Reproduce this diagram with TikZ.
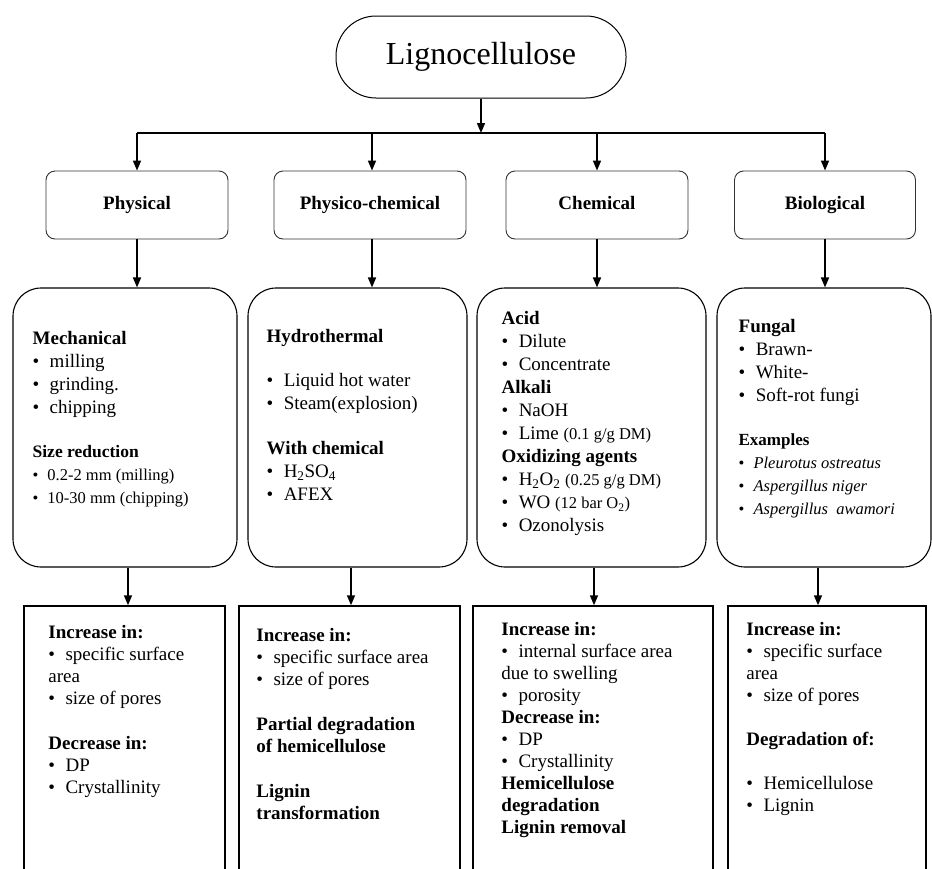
\documentclass[tikz,border=0pt]{standalone}
\usepackage{fontspec}
\setmainfont{Liberation Serif}
\usepackage{tikz}
\usetikzlibrary{arrows.meta,positioning,calc}
\newcommand{\itm}{\textbullet\hspace{0.55em}}
\newcommand{\smalltxt}[1]{{\fontsize{16.5}{23}\selectfont #1}}

\begin{document}
\begin{tikzpicture}[x=1pt, y=-1pt,
        root/.style={rectangle, rounded corners=40pt, draw, line width=1pt, minimum width=290pt, minimum height=82pt, font=\fontsize{32}{36}\selectfont},
        group/.style={rectangle, rounded corners=9pt, draw=black!80, line width=0.9pt, minimum height=68pt, text height=13pt, text depth=4pt, font=\fontsize{19}{23}\selectfont\bfseries},
        method/.style={rectangle, rounded corners=28pt, draw, line width=1.1pt, minimum height=279pt},
        effect/.style={rectangle, draw, line width=1.5pt, minimum height=280pt},
        body/.style={anchor=north west, inner sep=0pt, align=left, font=\fontsize{19}{23}\selectfont},
        bodyb/.style={body, font=\fontsize{19}{22}\selectfont},
        arrow/.style={-{Triangle[length=10pt,width=8pt]}, line width=1.6pt},
        bus/.style={line width=1.3pt}
    ]
        \clip (0,0) rectangle (932,868);

        \node[root] (ligno) at (481,57) {Lignocellulose};

        \node[group, minimum width=182pt] (phys) at (137,205) {Physical};
        \node[group, minimum width=192pt] (physchem) at (370,205) {Physico-chemical};
        \node[group, minimum width=182pt] (chem) at (597,205) {Chemical};
        \node[group, minimum width=181pt] (bio) at (825,205) {Biological};

        \node[method, minimum width=224pt] (phys3) at (125,427.5) {};
        \node[method, minimum width=219pt] (physchem3) at (357.5,427.5) {};
        \node[method, minimum width=229pt] (chem3) at (591.5,427.5) {};
        \node[method, minimum width=214pt] (bio3) at (824,427.5) {};

        \node[effect, minimum width=201pt] (phys4) at (124.5,746) {};
        \node[effect, minimum width=221pt] (physchem4) at (349.5,746) {};
        \node[effect, minimum width=240pt] (chem4) at (593,746) {};
        \node[effect, minimum width=198pt] (bio4) at (827,746) {};

        \node[body] (phys3txt) at ([xshift=20pt,yshift=-44pt]phys3.north west) {
            \textbf{Mechanical}\\
            \itm milling\\
            \itm grinding.\\
            \itm chipping\\[21pt]
            {\fontsize{17.5}{23}\selectfont\textbf{Size reduction}}\\
            \smalltxt{\itm 0.2-2 mm (milling)}\\
            \smalltxt{\itm 10-30 mm (chipping)}};
        \node[body] (physchem3txt) at ([xshift=19pt,yshift=-42pt]physchem3.north west) {
            \textbf{Hydrothermal}\\[21pt]
            \itm Liquid hot water\\
            \itm Steam(explosion)\\[22pt]
            \textbf{With chemical}\\
            \itm H\textsubscript{2}SO\textsubscript{4}\\
            \itm AFEX};
        \node[body] (chem3txt) at ([xshift=25pt,yshift=-24pt]chem3.north west) {
            \textbf{Acid}\\
            \itm Dilute\\
            \itm Concentrate\\
            \textbf{Alkali}\\
            \itm NaOH\\
            \itm Lime \smalltxt{(0.1 g/g DM)}\\
            \textbf{Oxidizing agents}\\
            \itm H\textsubscript{2}O\textsubscript{2} \smalltxt{(0.25 g/g DM)}\\
            \itm WO \smalltxt{(12 bar O\textsubscript{2})}\\
            \itm Ozonolysis};
        \node[body] (bio3txt) at ([xshift=22pt,yshift=-32pt]bio3.north west) {
            \textbf{Fungal}\\
            \itm Brawn-\\
            \itm White-\\
            \itm Soft-rot fungi\\[21pt]
            {\fontsize{17}{23}\selectfont\textbf{Examples}}\\
            \smalltxt{\itm \textit{Pleurotus ostreatus}}\\
            \smalltxt{\itm \textit{Aspergillus niger}}\\
            \smalltxt{\itm \textit{Aspergillus\ \ awamori}}};

        \node[bodyb] (phys4txt) at ([xshift=25pt,yshift=-20pt]phys4.north west) {
            \textbf{Increase in:}\\
            \itm specific surface\\
            area\\
            \itm size of pores\\[23pt]
            \textbf{Decrease in:}\\
            \itm DP\\
            \itm Crystallinity};
        \node[bodyb] (physchem4txt) at ([xshift=18pt,yshift=-23pt]physchem4.north west) {
            \textbf{Increase in:}\\
            \itm specific surface area\\
            \itm size of pores\\[23pt]
            \textbf{Partial degradation}\\
            \textbf{of hemicellulose}\\[23pt]
            \textbf{Lignin}\\
            \textbf{transformation}};
        \node[bodyb] (chem4txt) at ([xshift=29pt,yshift=-17pt]chem4.north west) {
            \textbf{Increase in:}\\
            \itm internal surface area\\
            due to swelling\\
            \itm porosity\\
            \textbf{Decrease in:}\\
            \itm DP\\
            \itm Crystallinity\\
            \textbf{Hemicellulose}\\
            \textbf{degradation}\\
            \textbf{Lignin removal}};
        \node[bodyb] (bio4txt) at ([xshift=19pt,yshift=-17pt]bio4.north west) {
            \textbf{Increase in:}\\
            \itm specific surface\\
            area\\
            \itm size of pores\\[22pt]
            \textbf{Degradation of:}\\[22pt]
            \itm Hemicellulose\\
            \itm Lignin};

        \coordinate (busl) at (137,133);
        \coordinate (busr) at (825,133);
        \draw[bus] (busl) -- (busr);
        \draw[arrow] (ligno) -- (ligno |- busl);
        \draw[arrow] (busl) -- (phys);
        \draw[arrow] ([xshift=2pt]physchem.north |- busl) -- ([xshift=2pt]physchem.north);
        \draw[arrow] (chem |- busl) -- (chem);
        \draw[arrow] (busr) -- (bio);

        \draw[arrow] (phys) -- (phys |- phys3.north);
        \draw[arrow] ([xshift=2pt]physchem.south) -- ([xshift=2pt]physchem.south |- physchem3.north);
        \draw[arrow] (chem) -- (chem |- chem3.north);
        \draw[arrow] (bio) -- (bio |- bio3.north);

        \draw[arrow] ([xshift=3pt]phys3.south) -- ([xshift=3pt]phys3.south |- phys4.north);
        \draw[arrow] ([xshift=-6.5pt]physchem3.south) -- ([xshift=-6.5pt]physchem3.south |- physchem4.north);
        \draw[arrow] ([xshift=2.5pt]chem3.south) -- ([xshift=2.5pt]chem3.south |- chem4.north);
        \draw[arrow] ([xshift=-6pt]bio3.south) -- ([xshift=-6pt]bio3.south |- bio4.north);
    \end{tikzpicture}
\end{document}
